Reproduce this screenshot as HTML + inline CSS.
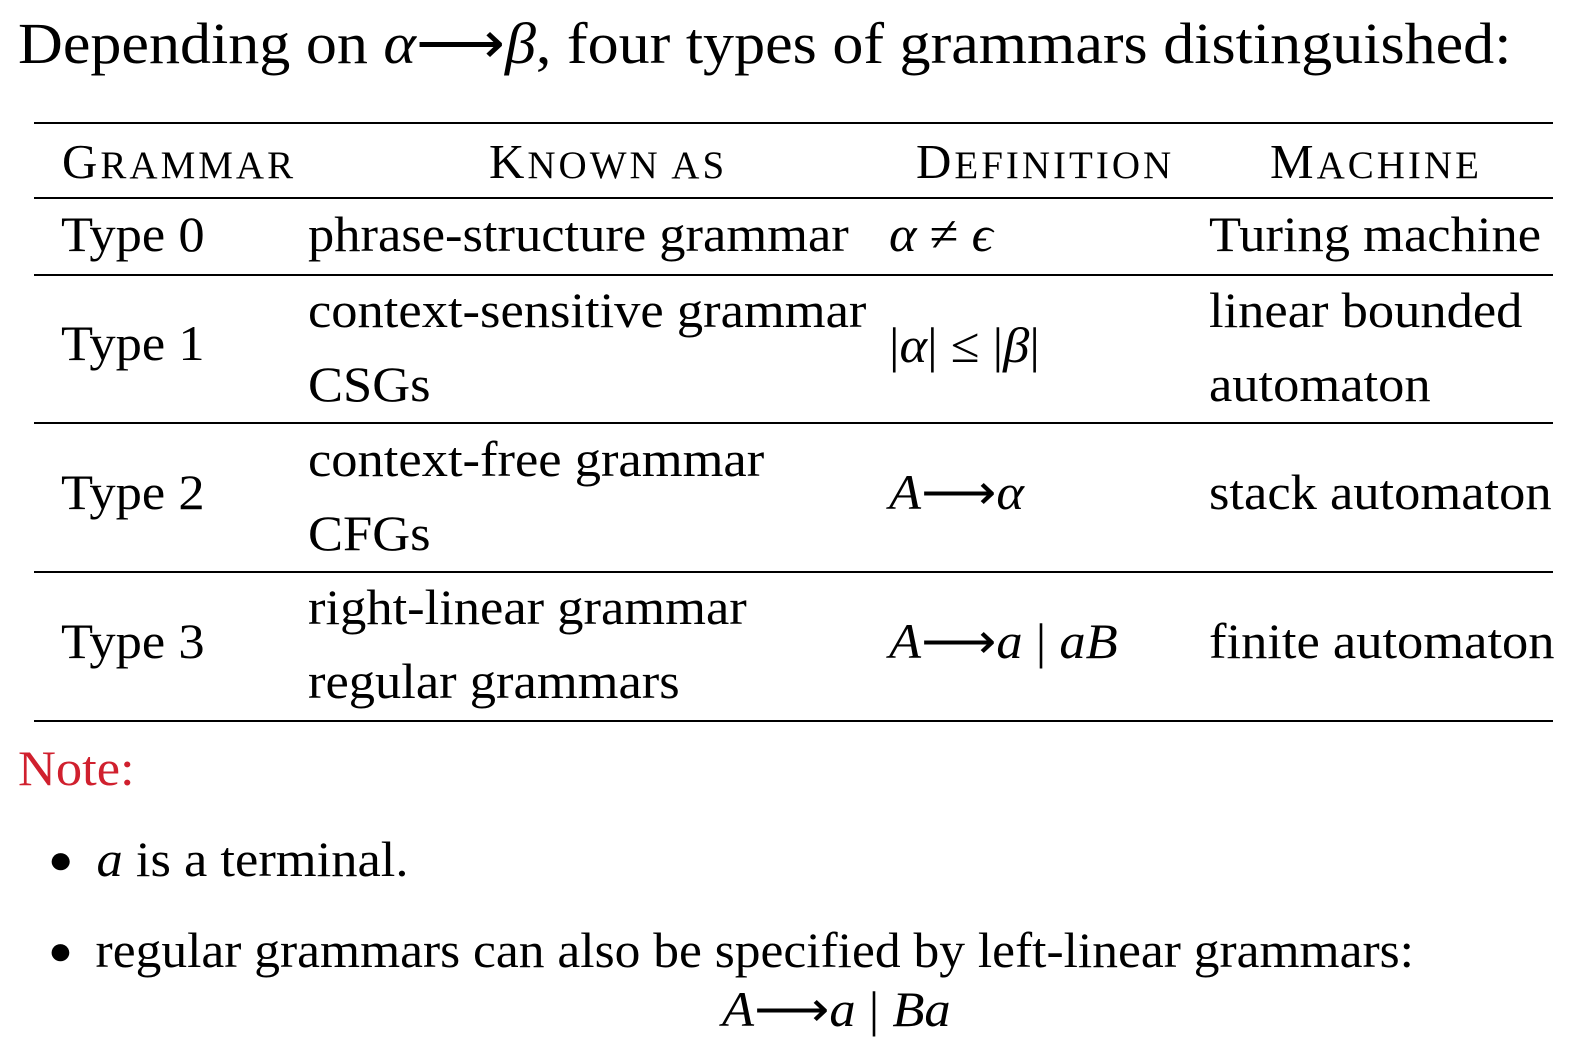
<!DOCTYPE html>
<html><head><meta charset="utf-8"><style>
body{margin:0;width:1586px;height:1058px;background:#fff;position:relative;overflow:hidden;font-family:"Liberation Serif",serif;color:#000}
.t{position:absolute;white-space:nowrap;font-size:50px;line-height:1;transform:scaleX(1.05);transform-origin:0 0}
.h{position:absolute;white-space:nowrap;font-size:39px;line-height:1;letter-spacing:3px}
.h b{font-weight:normal;font-size:49px}
.r{position:absolute;left:34px;width:1519px;background:#000}
.bul{font-size:40px;position:relative;top:-3px;margin-right:22px}
i{font-style:italic}
</style></head><body>
<div class="t" style="left:18px;top:15px;font-size:58px;transform:scaleX(1.07)">Depending on <i>α</i>⟶<i>β</i>, four types of grammars distinguished:</div>
<div class="r" style="top:122px;height:2px"></div>
<div class="h" style="left:62px;top:137px"><b>G</b>RAMMAR</div>
<div class="h" style="left:489px;top:137px"><b>K</b>NOWN AS</div>
<div class="h" style="left:916px;top:137px"><b>D</b>EFINITION</div>
<div class="h" style="left:1270px;top:137px"><b>M</b>ACHINE</div>
<div class="r" style="top:197px;height:2px"></div>

<div class="t" style="left:61px;top:209px">Type 0</div>
<div class="t" style="left:308px;top:209px">phrase-structure grammar</div>
<div class="t" style="left:889px;top:209px"><i>α</i> ≠ <i>ϵ</i></div>
<div class="t" style="left:1209px;top:209px">Turing machine</div>
<div class="r" style="top:274px;height:2px"></div>

<div class="t" style="left:61px;top:318px">Type 1</div>
<div class="t" style="left:308px;top:285px">context-sensitive grammar</div>
<div class="t" style="left:308px;top:359px">CSGs</div>
<div class="t" style="left:889px;top:320px">|<i>α</i>| ≤ |<i>β</i>|</div>
<div class="t" style="left:1209px;top:285px">linear bounded</div>
<div class="t" style="left:1209px;top:359px">automaton</div>
<div class="r" style="top:422px;height:2px"></div>

<div class="t" style="left:61px;top:467px">Type 2</div>
<div class="t" style="left:308px;top:434px">context-free grammar</div>
<div class="t" style="left:308px;top:508px">CFGs</div>
<div class="t" style="left:889px;top:467px"><i>A</i>⟶<i>α</i></div>
<div class="t" style="left:1209px;top:467px">stack automaton</div>
<div class="r" style="top:571px;height:2px"></div>

<div class="t" style="left:61px;top:616px">Type 3</div>
<div class="t" style="left:308px;top:582px">right-linear grammar</div>
<div class="t" style="left:308px;top:656px">regular grammars</div>
<div class="t" style="left:889px;top:616px"><i>A</i>⟶<i>a</i> | <i>aB</i></div>
<div class="t" style="left:1209px;top:616px">finite automaton</div>
<div class="r" style="top:720px;height:2px"></div>

<div class="t" style="left:18px;top:743px;color:#d0202e">Note:</div>
<div class="t" style="left:48px;top:834px"><span class="bul">●</span><i>a</i> is a terminal.</div>
<div class="t" style="left:48px;top:925px;transform:scaleX(1.03)"><span class="bul">●</span>regular grammars can also be specified by left-linear grammars:</div>
<div class="t" style="left:722px;top:984px"><i>A</i>⟶<i>a</i> | <i>Ba</i></div>
</body></html>
